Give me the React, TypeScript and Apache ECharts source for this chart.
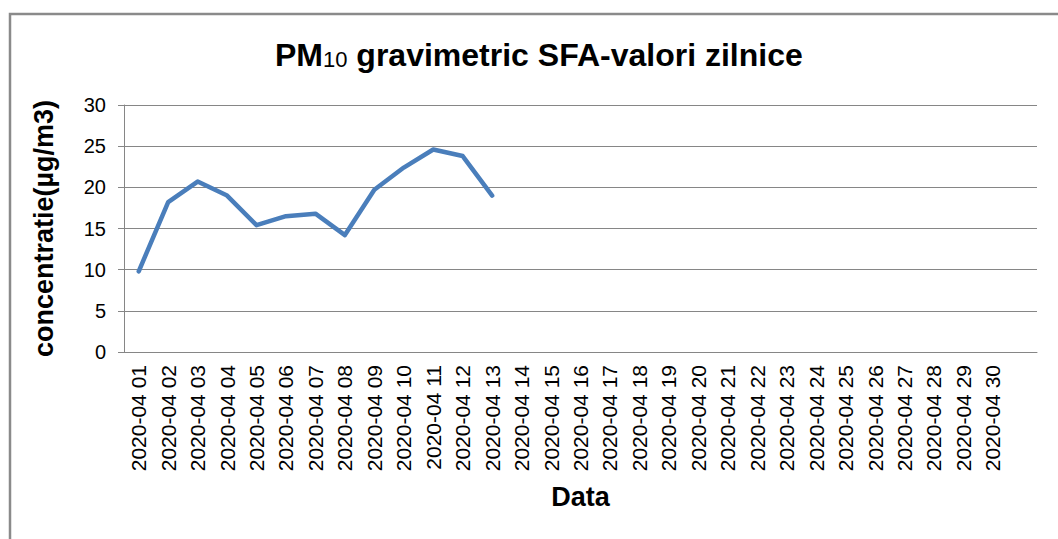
import React, { useEffect, useRef } from 'react';
import * as echarts from 'echarts';

const categories = [
  '2020-04 01', '2020-04 02', '2020-04 03', '2020-04 04', '2020-04 05',
  '2020-04 06', '2020-04 07', '2020-04 08', '2020-04 09', '2020-04 10',
  '2020-04 11', '2020-04 12', '2020-04 13', '2020-04 14', '2020-04 15',
  '2020-04 16', '2020-04 17', '2020-04 18', '2020-04 19', '2020-04 20',
  '2020-04 21', '2020-04 22', '2020-04 23', '2020-04 24', '2020-04 25',
  '2020-04 26', '2020-04 27', '2020-04 28', '2020-04 29', '2020-04 30',
  '',
];

const pm10Values = [9.8, 18.2, 20.7, 19.0, 15.4, 16.5, 16.8, 14.2, 19.7, 22.4, 24.6, 23.8, 19.0];

const yMin = 0;
const yMax = 30;
const yStep = 5;

const FONT = '"Liberation Sans", Arial, sans-serif';

export default function App() {
  const ref = useRef<HTMLDivElement>(null);
  useEffect(() => {
    if (!ref.current) return;
    const chart = echarts.init(ref.current, undefined, { renderer: 'svg' });
    chart.setOption({
      animation: false,
      backgroundColor: '#ffffff',
      title: {
        left: 275,
        top: 39,
        padding: 0,
        text: '{a|PM}{b|10}{a| gravimetric SFA-valori zilnice}',
        textStyle: {
          rich: {
            a: { fontFamily: FONT, fontSize: 32, fontWeight: 'bold', color: '#000', verticalAlign: 'bottom' },
            b: { fontFamily: FONT, fontSize: 22, fontWeight: 'normal', color: '#000', verticalAlign: 'bottom', padding: [0, 0, 1, 0] },
          },
        },
      },
      graphic: [
        {
          type: 'rect',
          shape: { x: 10, y: 14, width: 1100, height: 600 },
          style: { fill: 'none', stroke: '#8a8a8a', lineWidth: 2.5 },
          silent: true,
          z: 10,
        },
      ],
      grid: { left: 124, right: 21, top: 105, bottom: 187 },
      xAxis: {
        type: 'category',
        data: categories,
        boundaryGap: true,
        name: 'Data',
        nameLocation: 'middle',
        nameGap: 131,
        nameTextStyle: { fontFamily: FONT, fontSize: 27, fontWeight: 'bold', color: '#000' },
        axisLine: { lineStyle: { color: '#868686', width: 1 } },
        axisTick: { show: false },
        axisLabel: {
          interval: 0,
          rotate: 90,
          margin: 13,
          fontFamily: FONT,
          fontSize: 21,
          color: '#000',
        },
        splitLine: { show: false },
      },
      yAxis: {
        type: 'value',
        min: yMin,
        max: yMax,
        interval: yStep,
        name: 'concentratie(µg/m3)',
        nameLocation: 'middle',
        nameGap: 67,
        nameTextStyle: { fontFamily: FONT, fontSize: 27, fontWeight: 'bold', color: '#000' },
        axisLine: { show: true, lineStyle: { color: '#868686', width: 1 } },
        axisTick: { show: true, length: 6, lineStyle: { color: '#868686' } },
        axisLabel: { margin: 18, fontFamily: FONT, fontSize: 20, color: '#000' },
        splitLine: { show: true, lineStyle: { color: '#868686', width: 1 } },
      },
      series: [
        {
          type: 'line',
          data: pm10Values,
          symbol: 'none',
          smooth: false,
          lineStyle: { color: '#4a7ebb', width: 4.5, join: 'round', cap: 'round' },
          itemStyle: { color: '#4a7ebb' },
        },
      ],
    });
    return () => chart.dispose();
  }, []);
  return (
    <div
      ref={ref}
      style={{ position: 'absolute', left: 0, top: 0, width: 1058, height: 539 }}
    />
  );
}
